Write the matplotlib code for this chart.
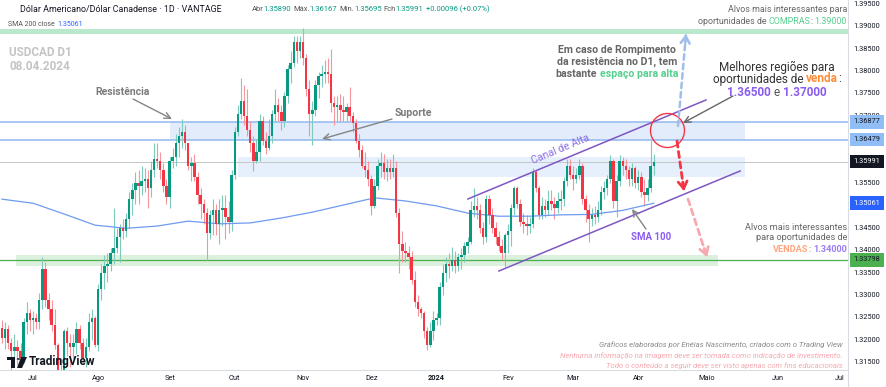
import math
import numpy as np
import pandas as pd
import matplotlib
matplotlib.use("Agg")
import matplotlib.pyplot as plt
from matplotlib.lines import Line2D
from matplotlib.patches import Rectangle, Circle, Polygon

plt.rcParams['font.family'] = ['Roboto', 'DejaVu Sans']

# ---- daily USDCAD candles, 19 Jun 2023 .. 08 Apr 2024 (open = previous close)
first_open = 1.3228
close = [1.3205, 1.3225, 1.3195, 1.3175, 1.3185, 1.3175, 1.3160, 1.3240, 1.3260, 1.3245,
         1.3250, 1.3240, 1.3290, 1.3360, 1.3290, 1.3270, 1.3235, 1.3190, 1.3115, 1.3125, 1.3220,
         1.3195, 1.3185, 1.3195, 1.3225, 1.3195, 1.3160, 1.3185, 1.3240, 1.3250, 1.3190,
         1.3315, 1.3350, 1.3365, 1.3370, 1.3395, 1.3405, 1.3430, 1.3450, 1.3445, 1.3470, 1.3515,
         1.3535, 1.3550, 1.3545, 1.3555, 1.3560, 1.3540, 1.3580, 1.3605, 1.3600, 1.3580, 1.3545, 1.3520,
         1.3600, 1.3610, 1.3640, 1.3655, 1.3665, 1.3640, 1.3590, 1.3595, 1.3565, 1.3525, 1.3505,
         1.3485, 1.3440, 1.3480, 1.3490, 1.3460, 1.3490, 1.3495, 1.3475, 1.3465, 1.3570,
         1.3665, 1.3705, 1.3735, 1.3700, 1.3670, 1.3640, 1.3600, 1.3620, 1.3690, 1.3645, 1.3630,
         1.3655, 1.3705, 1.3725, 1.3710, 1.3690, 1.3745, 1.3805, 1.3820, 1.3865, 1.3845, 1.3865,
         1.3830, 1.3760, 1.3705, 1.3715, 1.3770, 1.3790, 1.3795, 1.3800, 1.3795, 1.3730, 1.3720,
         1.3725, 1.3715, 1.3710, 1.3720, 1.3700, 1.3685, 1.3645, 1.3625, 1.3590, 1.3580, 1.3560,
         1.3500, 1.3545, 1.3590, 1.3595, 1.3575, 1.3585, 1.3575, 1.3585, 1.3485, 1.3415, 1.3400,
         1.3395, 1.3385, 1.3335, 1.3285, 1.3270, 1.3260, 1.3220, 1.3190, 1.3220, 1.3245,
         1.3250, 1.3320, 1.3350, 1.3370, 1.3365, 1.3380, 1.3365, 1.3385, 1.3390, 1.3410, 1.3420,
         1.3490, 1.3500, 1.3490, 1.3450, 1.3430, 1.3515, 1.3480, 1.3450, 1.3430, 1.3410, 1.3395, 1.3435,
         1.3445, 1.3495, 1.3540, 1.3505, 1.3465, 1.3460, 1.3455, 1.3460, 1.3575, 1.3540, 1.3480,
         1.3500, 1.3490, 1.3510, 1.3505, 1.3495, 1.3510, 1.3515, 1.3555, 1.3590, 1.3570,
         1.3560, 1.3570, 1.3590, 1.3515, 1.3490, 1.3470, 1.3480, 1.3475, 1.3490, 1.3530, 1.3540,
         1.3560, 1.3600, 1.3510, 1.3555, 1.3600, 1.3590, 1.3580, 1.3560, 1.3585, 1.3550,
         1.3565, 1.3530, 1.3525, 1.3540, 1.35890, 1.35991]
high = [1.3245, 1.3240, 1.3235, 1.3205, 1.3215, 1.3200, 1.3195, 1.3250, 1.3285, 1.3270,
        1.3265, 1.3260, 1.3305, 1.3387, 1.3375, 1.3305, 1.3290, 1.3270, 1.3195, 1.3160, 1.3225,
        1.3230, 1.3215, 1.3215, 1.3240, 1.3235, 1.3205, 1.3205, 1.3260, 1.3270, 1.3255,
        1.3325, 1.3370, 1.3390, 1.3395, 1.3405, 1.3495, 1.3450, 1.3460, 1.3470, 1.3485, 1.3530,
        1.3550, 1.3575, 1.3580, 1.3590, 1.3585, 1.3580, 1.3600, 1.3640, 1.3640, 1.3620, 1.3595, 1.3560,
        1.3610, 1.3630, 1.3660, 1.3675, 1.3694, 1.3680, 1.3640, 1.3610, 1.3615, 1.3575, 1.3540,
        1.3515, 1.3495, 1.3490, 1.3515, 1.3505, 1.3515, 1.3525, 1.3525, 1.3510, 1.3580,
        1.3675, 1.3725, 1.3785, 1.3770, 1.3760, 1.3690, 1.3655, 1.3650, 1.3705, 1.3700, 1.3665,
        1.3695, 1.3715, 1.3760, 1.3740, 1.3725, 1.3755, 1.3815, 1.3845, 1.3880, 1.3880, 1.3880,
        1.3898, 1.3840, 1.3780, 1.3735, 1.3780, 1.3800, 1.3815, 1.3825, 1.3830, 1.3850, 1.3745,
        1.3745, 1.3750, 1.3745, 1.3730, 1.3765, 1.3710, 1.3695, 1.3660, 1.3635, 1.3620, 1.3600,
        1.3570, 1.3560, 1.3605, 1.3620, 1.3615, 1.3605, 1.3605, 1.3615, 1.3600, 1.3495, 1.3445,
        1.3420, 1.3410, 1.3400, 1.3355, 1.3300, 1.3275, 1.3265, 1.3230, 1.3240, 1.3265,
        1.3260, 1.3330, 1.3370, 1.3385, 1.3395, 1.3408, 1.3400, 1.3395, 1.3405, 1.3420, 1.3430,
        1.3510, 1.3541, 1.3520, 1.3505, 1.3465, 1.3525, 1.3525, 1.3495, 1.3465, 1.3445, 1.3425, 1.3440,
        1.3460, 1.3505, 1.3545, 1.3545, 1.3515, 1.3485, 1.3480, 1.3475, 1.3585, 1.3580, 1.3545,
        1.3520, 1.3515, 1.3535, 1.3535, 1.3520, 1.3530, 1.3535, 1.3565, 1.3605, 1.3605,
        1.3590, 1.3585, 1.3605, 1.3595, 1.3525, 1.3505, 1.3495, 1.3500, 1.3510, 1.3545, 1.3555,
        1.3570, 1.3614, 1.3605, 1.3570, 1.3614, 1.3610, 1.3605, 1.3590, 1.3595, 1.3590,
        1.3580, 1.3575, 1.3560, 1.3560, 1.3647, 1.36167]
low = [1.3195, 1.3180, 1.3180, 1.3120, 1.3150, 1.3145, 1.3140, 1.3150, 1.3215, 1.3220,
       1.3215, 1.3225, 1.3225, 1.3270, 1.3275, 1.3245, 1.3220, 1.3180, 1.3100, 1.3093, 1.3115,
       1.3165, 1.3140, 1.3160, 1.3170, 1.3180, 1.3150, 1.3140, 1.3175, 1.3200, 1.3185,
       1.3175, 1.3290, 1.3315, 1.3330, 1.3355, 1.3370, 1.3395, 1.3375, 1.3425, 1.3430, 1.3450,
       1.3480, 1.3505, 1.3505, 1.3525, 1.3530, 1.3495, 1.3520, 1.3565, 1.3585, 1.3560, 1.3530, 1.3505,
       1.3495, 1.3585, 1.3590, 1.3610, 1.3630, 1.3625, 1.3580, 1.3555, 1.3555, 1.3505, 1.3470,
       1.3460, 1.3380, 1.3425, 1.3435, 1.3435, 1.3415, 1.3455, 1.3425, 1.3440, 1.3445,
       1.3560, 1.3655, 1.3695, 1.3680, 1.3655, 1.3620, 1.3578, 1.3595, 1.3600, 1.3635, 1.3615,
       1.3625, 1.3640, 1.3690, 1.3690, 1.3670, 1.3675, 1.3730, 1.3775, 1.3810, 1.3820, 1.3830,
       1.3815, 1.3745, 1.3655, 1.3635, 1.3700, 1.3740, 1.3765, 1.3775, 1.3775, 1.3710, 1.3680,
       1.3690, 1.3690, 1.3690, 1.3690, 1.3690, 1.3665, 1.3640, 1.3610, 1.3585, 1.3565, 1.3545,
       1.3480, 1.3495, 1.3535, 1.3565, 1.3560, 1.3555, 1.3560, 1.3565, 1.3475, 1.3350, 1.3375,
       1.3375, 1.3360, 1.3325, 1.3275, 1.3255, 1.3250, 1.3205, 1.3178, 1.3185, 1.3200,
       1.3235, 1.3235, 1.3300, 1.3330, 1.3340, 1.3355, 1.3350, 1.3355, 1.3360, 1.3375, 1.3395,
       1.3415, 1.3475, 1.3470, 1.3440, 1.3415, 1.3420, 1.3460, 1.3440, 1.3415, 1.3400, 1.3380, 1.3364,
       1.3395, 1.3410, 1.3480, 1.3495, 1.3455, 1.3440, 1.3435, 1.3440, 1.3450, 1.3530, 1.3470,
       1.3470, 1.3475, 1.3480, 1.3490, 1.3470, 1.3485, 1.3490, 1.3500, 1.3545, 1.3560,
       1.3535, 1.3550, 1.3560, 1.3505, 1.3465, 1.3420, 1.3455, 1.3460, 1.3465, 1.3480, 1.3515,
       1.3525, 1.3550, 1.3495, 1.3475, 1.3545, 1.3570, 1.3560, 1.3545, 1.3545, 1.3540,
       1.3535, 1.3520, 1.3500, 1.3510, 1.3530, 1.35695]
first_day = '2023-06-19'

# SMA 200 read every 10 bars
sma_every = 10
sma = [1.3515, 1.3506, 1.3482, 1.3457, 1.3450, 1.3455, 1.3466, 1.3460, 1.3462, 1.3473, 1.3486,
       1.3502, 1.3518, 1.3511, 1.3500, 1.3484, 1.3477, 1.3477, 1.3480, 1.3481, 1.3490, 1.3506]

# levels drawn on the chart
buy_target = (1.3884, 1.3894)
resist_lines = [1.36877, 1.36479]
support_band = (1.3565, 1.3609)
sell_band = (1.3366, 1.3390)
sell_line = 1.33798
last_price = 1.35991
sma_last = 1.35061
channel_up = [(150.1, 1.35154), (226.8, 1.37364)]
channel_dn = [(160.1, 1.33547), (237.8, 1.35779)]

months = ['Jul', 'Ago', 'Set', 'Out', 'Nov', 'Dez', '2024', 'Fev', 'Mar', 'Abr', 'Maio', 'Jun', 'Jul']

W, H = 886, 387
fig = plt.figure(figsize=(W / 100, H / 100), dpi=100)
fig.patch.set_facecolor('white')
ax = fig.add_axes([0, 17 / H, 848 / W, 370 / H])
ax.set_xlim(-0.63, 272.56)
ax.set_ylim(1.31337, 1.39596)
ax.axis('off')
renderer = fig.canvas.get_renderer()


def P(x, y):
    return (x, H - y)


# zones and lines
ax.axhspan(*buy_target, color='#b9e8cd', lw=0, zorder=0)
ax.add_patch(Rectangle((54.1, resist_lines[1]), 185.3, resist_lines[0] - resist_lines[1],
                       fc='#e2ecfb', ec='none', zorder=0))
ax.add_patch(Rectangle((76.0, support_band[0]), 163.4, support_band[1] - support_band[0],
                       fc='#e6effc', ec='none', zorder=0))
ax.add_patch(Rectangle((4.5, sell_band[0]), 226.2, sell_band[1] - sell_band[0],
                       fc='#dcf1dd', ec='none', zorder=0))
for lv in resist_lines:
    ax.axhline(lv, color='#92b8ef', lw=1.1, zorder=1)
ax.axhline(sell_line, color='#4caf50', lw=0.9, zorder=1)
ax.axhline(last_price, color='#c6c6c6', lw=0.7, zorder=1)

# candles
c = np.array(close)
o = np.array([first_open] + close[:-1])
x = np.arange(len(c))
up = c >= o
body_col = np.where(up, '#089981', '#f23645')
wick_col = np.where(up, '#7fcbbb', '#f5959d')
ax.vlines(x, low, high, colors=wick_col, lw=0.8, zorder=2)
ax.bar(x, np.maximum(np.abs(c - o), 0.00006), bottom=np.minimum(o, c), width=0.78,
       color=body_col, lw=0, zorder=3)

# SMA
ax.plot(np.arange(len(sma)) * sma_every, sma, color='#6f9bef', lw=0.9, zorder=2)

# channel
ax.plot(*zip(*channel_up), color='#7e57c2', lw=1.1, zorder=4)
ax.plot(*zip(*channel_dn), color='#7e57c2', lw=1.1, zorder=4)
ax.plot(214.3, 1.36694, 'o', ms=24.5, mfc='none', mec='#f23645', mew=1, zorder=5)


def arrow(x0, y0, x1, y1, color='#858585', lw=1.0):
    ax.annotate('', xy=P(x1, y1), xytext=P(x0, y0), xycoords='figure pixels',
                textcoords='figure pixels',
                arrowprops=dict(arrowstyle='->,head_length=0.45,head_width=0.22', color=color,
                                lw=lw, shrinkA=0, shrinkB=0), zorder=6)


def dashed_arrow(x0, y0, x1, y1, color, lw):
    ax.annotate('', xy=P(x1, y1), xytext=P(x0, y0), xycoords='figure pixels',
                textcoords='figure pixels',
                arrowprops=dict(arrowstyle='-', color=color, lw=lw, linestyle=(0, (2.2, 1.6)),
                                shrinkA=0, shrinkB=0), zorder=6)
    d = math.hypot(x1 - x0, y1 - y0)
    ux, uy = (x1 - x0) / d, (y1 - y0) / d
    ax.annotate('', xy=P(x1, y1), xytext=P(x1 - ux * 9, y1 - uy * 9), xycoords='figure pixels',
                textcoords='figure pixels',
                arrowprops=dict(arrowstyle='->,head_length=0.5,head_width=0.32', color=color,
                                lw=lw, shrinkA=0, shrinkB=0), zorder=6)


dashed_arrow(678, 126, 686, 34, '#9fbee9', 1.8)
dashed_arrow(677, 141, 684, 191, '#f23645', 2.0)
dashed_arrow(688, 199, 707, 257, '#f8a9b0', 2.0)
arrow(133, 99, 172, 119)
arrow(392, 119, 322, 139)
arrow(646, 229, 632, 209)
arrow(733, 96, 683, 123, color='#666666')


def ftxt(x, y, s, **kw):
    return fig.text(x / W, 1 - y / H, s, **kw)


def rich(x, y, parts, ha='left', size=7, style='normal'):
    sp = (ftxt(0, 0, 'n n', fontsize=size).get_window_extent(renderer).width
          - ftxt(0, 0, 'nn', fontsize=size).get_window_extent(renderer).width)
    for t in fig.texts[-2:]:
        t.remove()
    items = []
    for s, col, wt in parts:
        gap = sp if s.startswith(' ') else 0
        t = ftxt(0, y, s.strip(), color=col, fontweight=wt, fontsize=size, va='center',
                 fontstyle=style)
        items.append((t, gap, t.get_window_extent(renderer).width))
    total = sum(g + w for _, g, w in items)
    x0 = x - total / 2 if ha == 'center' else (x - total if ha == 'right' else x)
    for t, g, w in items:
        x0 += g
        t.set_x(x0 / W)
        x0 += w


# header
ftxt(20, 9, 'Dólar Americano/Dólar Canadense · 1D · VANTAGE', fontsize=6.4, color='#131722', va='center')
ohlc = [('Abr', '#555'), ('1.35890', '#089981'), (' Máx.', '#555'), ('1.36167', '#089981'),
        (' Mín.', '#555'), ('1.35695', '#089981'), (' Fch', '#555'), ('1.35991', '#089981'),
        (' +0.00096 (+0.07%)', '#089981')]
rich(252, 9, [(s, col, 'normal') for s, col in ohlc], size=5.5)
ftxt(8, 24, 'SMA 200 close', fontsize=5.0, color='#555', va='center')
ftxt(57, 24, '1.35061', fontsize=5.0, color='#2962ff', va='center')
ftxt(9, 53, 'USDCAD D1', fontsize=8.5, color='#c4c4c4', fontweight='bold', va='center')
ftxt(9, 66, '08.04.2024', fontsize=8.5, color='#c4c4c4', fontweight='bold', va='center')

# annotations
ftxt(123, 92, 'Resistência', fontsize=7.5, color='#7a7a7a', fontweight='bold', ha='center', va='center')
ftxt(413, 113, 'Suporte', fontsize=7.6, color='#7a7a7a', fontweight='bold', ha='center', va='center')
ftxt(651, 237, 'SMA 100', fontsize=7, color='#8a5cf0', fontweight='bold', ha='center', va='center')
fig.text(560 / W, 1 - 149 / H, 'Canal de Alta', fontsize=7.6, color='#8e6fe6', rotation=22.6,
         ha='center', va='center', rotation_mode='anchor')

rich(617, 50, [('Em caso de Rompimento', '#666666', 'bold')], ha='center', size=7.6)
rich(617, 62, [('da resistência no D1, tem', '#666666', 'bold')], ha='center', size=7.6)
rich(617, 74, [('bastante', '#666666', 'bold'), (' espaço para alta', '#55d08f', 'bold')],
     ha='center', size=7.6)

rich(777, 67, [('Melhores regiões para', '#333333', 'normal')], ha='center', size=8.5)
rich(777, 79, [('oportunidades de', '#333333', 'normal'), (' venda', '#ff8c3a', 'bold'),
               (':', '#333333', 'normal')], ha='center', size=8.5)
rich(777, 92, [('1.36500', '#8a5cf0', 'bold'), (' e', '#555555', 'normal'),
               (' 1.37000', '#8a5cf0', 'bold')], ha='center', size=8.5)

rich(847, 10, [('Alvos mais interessantes para', '#666666', 'normal')], ha='right', size=6.4)
rich(847, 22, [('oportunidades de', '#666666', 'normal'), (' COMPRAS', '#55cf8f', 'normal'),
               (':', '#666666', 'normal'), (' 1.39000', '#55cf8f', 'normal')], ha='right', size=6.4)
rich(847, 227, [('Alvos mais interessantes', '#666666', 'normal')], ha='right', size=6.6)
rich(847, 238, [('para oportunidades de', '#666666', 'normal')], ha='right', size=6.6)
rich(847, 249, [('VENDAS', '#ffa57f', 'bold'), (':', '#666666', 'normal'),
                (' 1.34000', '#9b7cf4', 'bold')], ha='right', size=6.6)

ftxt(843, 345, 'Gráficos elaborados por Enéias Nascimento, criados com o Trading View',
     fontsize=5.6, color='#8a8a8a', fontstyle='italic', ha='right', va='center')
ftxt(843, 356, 'Nenhuma informação na imagem deve ser tomada como indicação de investimento.',
     fontsize=5.6, color='#f5a9b0', fontstyle='italic', ha='right', va='center')
ftxt(843, 366, 'Todo o conteúdo a seguir deve ser visto apenas com fins educacionais',
     fontsize=5.6, color='#f5a9b0', fontstyle='italic', ha='right', va='center')

# TradingView logo
for patch in [Rectangle((7 / W, 1 - 360 / H), 8 / W, 3 / H),
              Rectangle((11 / W, 1 - 368 / H), 4 / W, 10 / H),
              Circle((18.5 / W, 1 - 359 / H), 1.8 / W),
              Polygon([(21 / W, 1 - 357 / H), (27 / W, 1 - 357 / H), (22 / W, 1 - 368 / H),
                       (17 / W, 1 - 368 / H)])]:
    patch.set_transform(fig.transFigure)
    patch.set_facecolor('#131722')
    patch.set_edgecolor('none')
    fig.add_artist(patch)
ftxt(29, 362, 'TradingView', fontsize=8.5, color='#131722', fontweight='bold', va='center')

# borders
fig.add_artist(Line2D([848 / W, 848 / W], [0, 1], color='#d9dce3', lw=0.8, transform=fig.transFigure))
fig.add_artist(Line2D([0, 848 / W], [17 / H, 17 / H], color='#d9dce3', lw=0.8, transform=fig.transFigure))

# price scale
ytr = ax.get_yaxis_transform()
tags = [(resist_lines[0], '#90bdf5', '#131722'), (resist_lines[1], '#90bdf5', '#131722'),
        (last_price, '#131722', 'white'), (sma_last, '#2962ff', 'white'),
        (sell_line, '#4caf50', '#131722')]
for t in np.arange(1.315, 1.3951, 0.005):
    if min(abs(t - v) for v, _, _ in tags) < 0.001:
        continue
    ax.text(867 / 848, t, f'{t:.5f}', transform=ytr, fontsize=5.3, color='#131722',
            ha='center', va='center', clip_on=False)
for val, bg, tc in tags:
    ax.text(867 / 848, val, f'{val:.5f}', transform=ytr, fontsize=5.3, color=tc, ha='center',
            va='center', clip_on=False, zorder=8,
            bbox=dict(boxstyle='square,pad=0.45', fc=bg, ec='none'))

# time scale
days = pd.bdate_range(first_day, '2024-07-31')
firsts = [i for i in range(1, len(days)) if days[i].month != days[i - 1].month]
xtr = ax.get_xaxis_transform()
for i, lab in zip(firsts, months):
    ax.text(i, -8 / 370, lab, transform=xtr, fontsize=5.3, color='#131722', ha='center', va='center',
            fontweight='bold' if lab == '2024' else 'normal', clip_on=False)

fig.savefig('out.png', dpi=100)
